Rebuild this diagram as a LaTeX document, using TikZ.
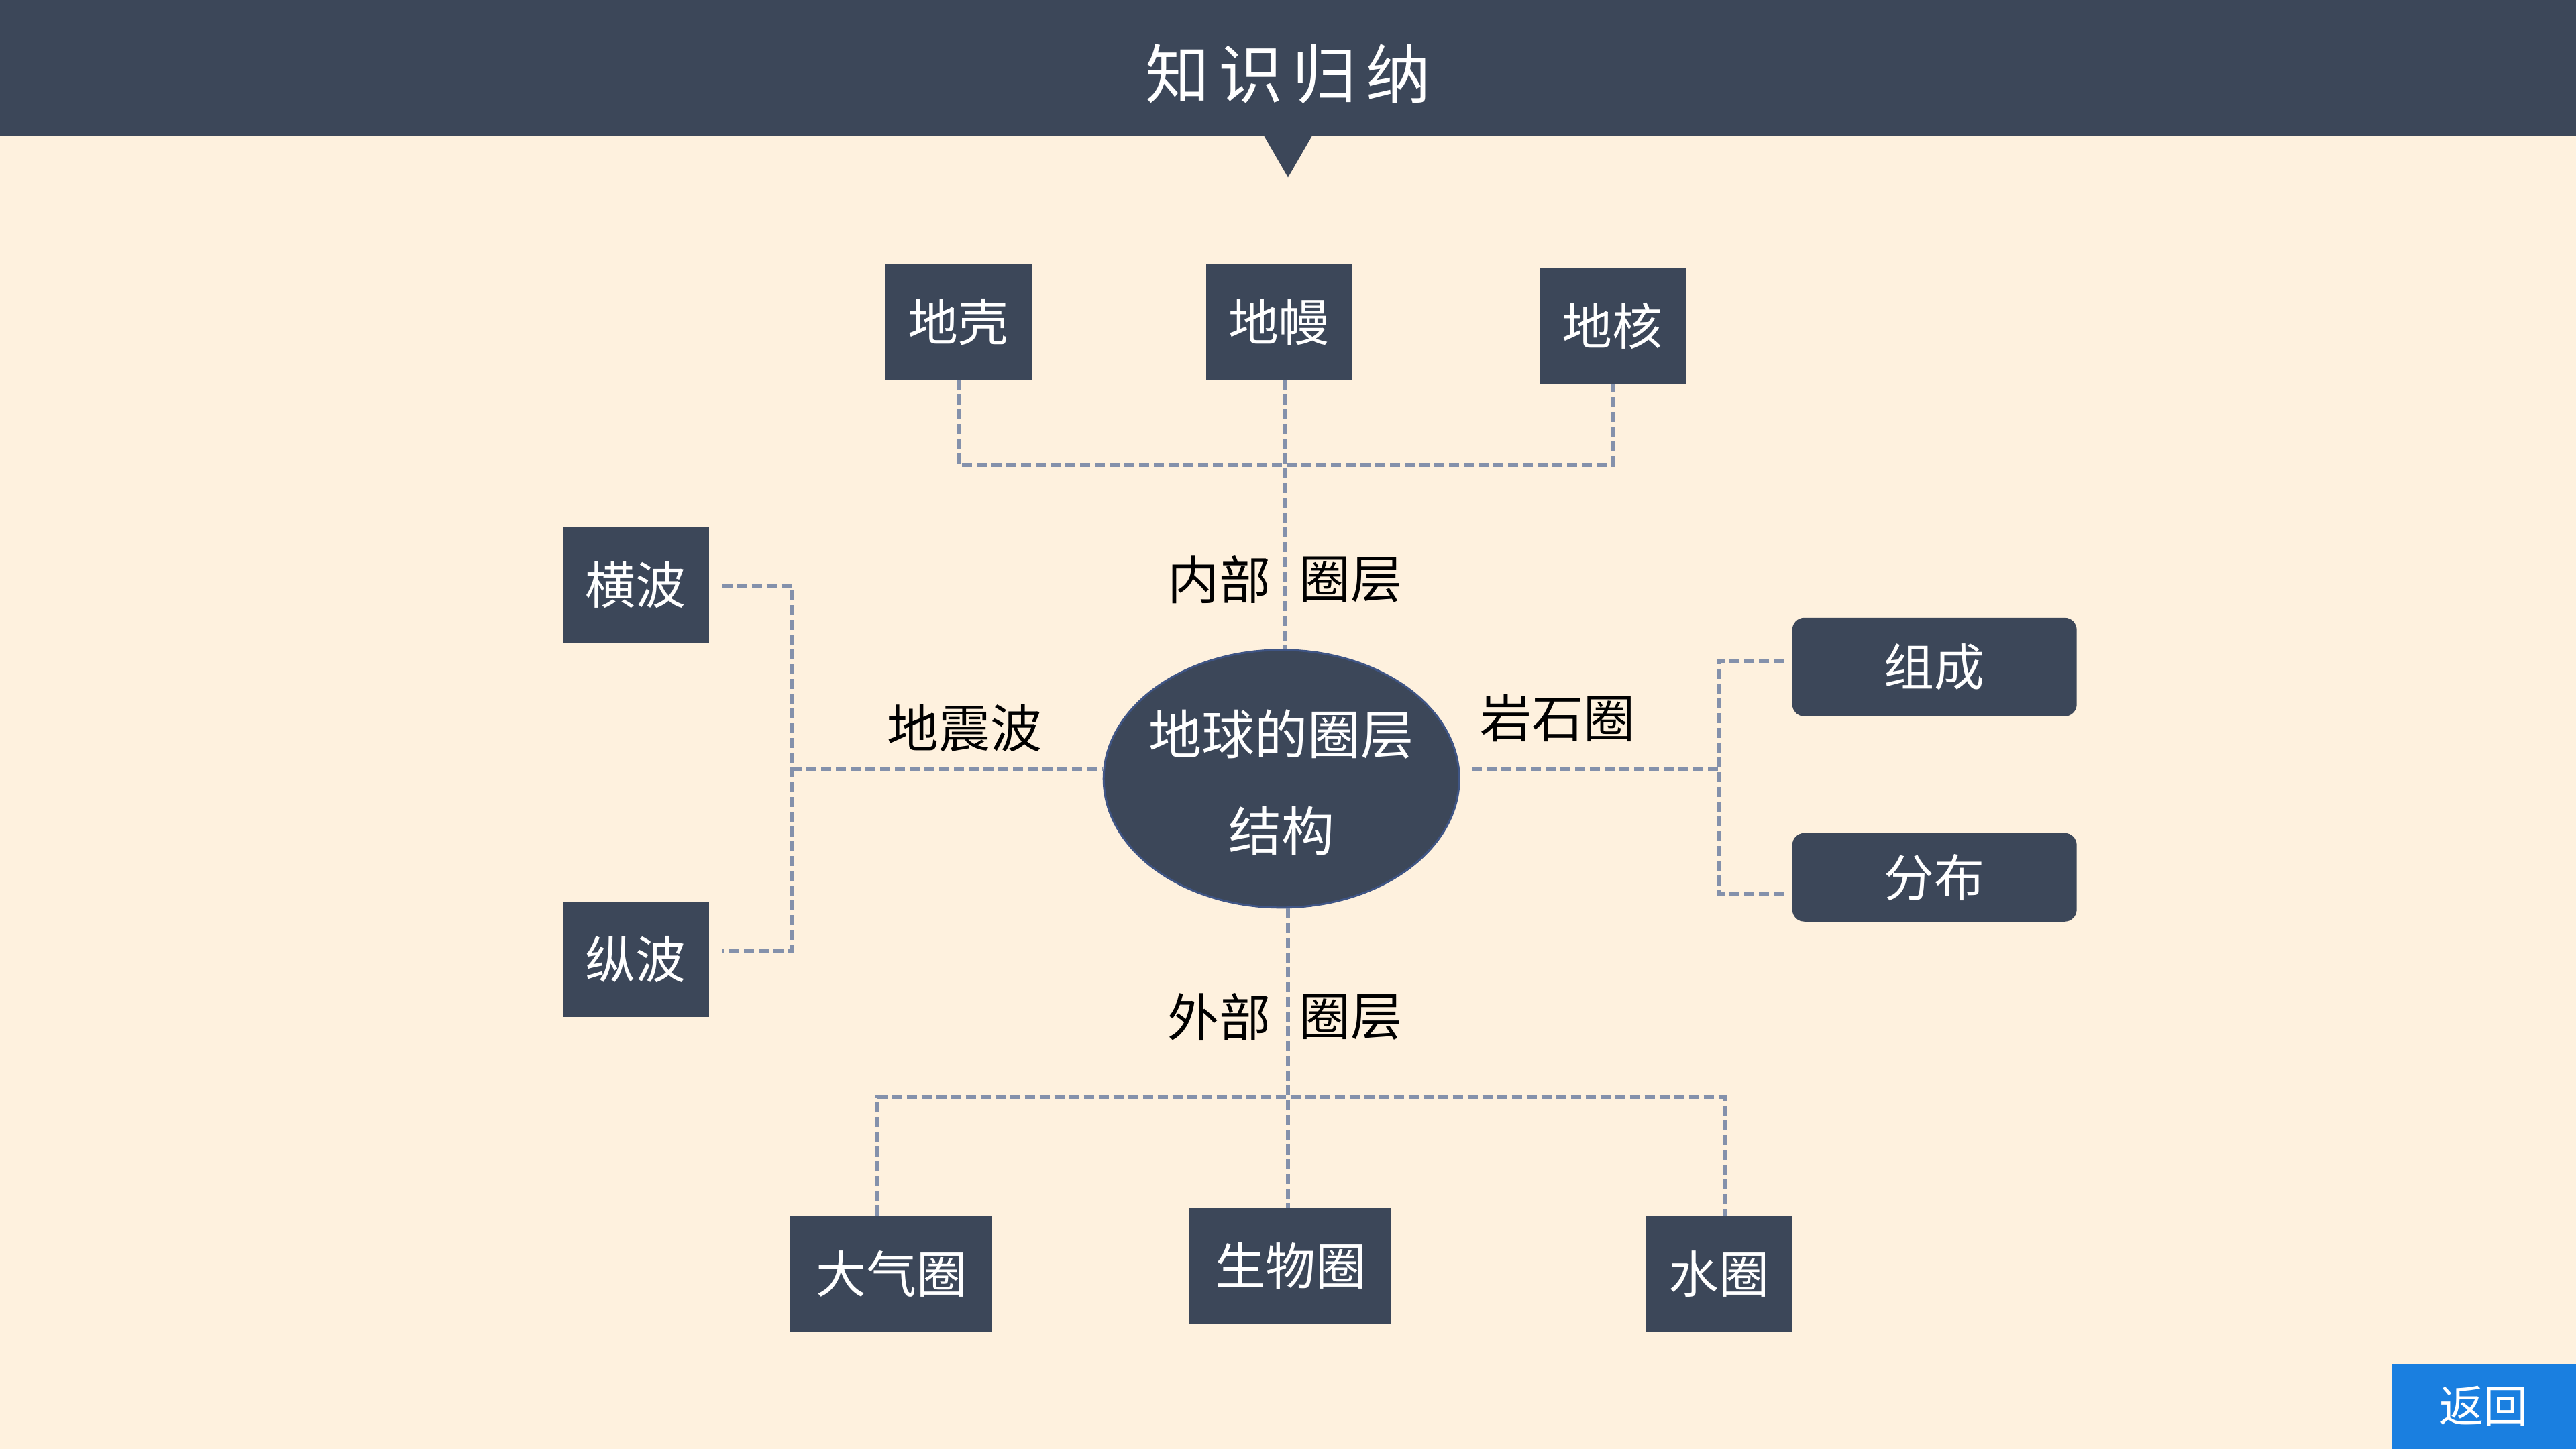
\documentclass[tikz,border=0pt]{standalone}
\usepackage{fontspec}
\setmainfont{Noto Sans CJK SC}
\usetikzlibrary{calc,shapes.geometric}
\definecolor{bg}{HTML}{FEF1DE}
\definecolor{dark}{HTML}{3C4759}
\definecolor{dashc}{HTML}{8491AB}
\definecolor{btn}{HTML}{1A7FE0}
\definecolor{ellb}{HTML}{3F5585}
\begin{document}
\begin{tikzpicture}[x=2.449pt,y=-2.449pt,
 box/.style={fill=dark,text=white,inner sep=0pt,font=\fontsize{75}{80}\selectfont},
 sqbox/.style={box,minimum width=218pt,minimum height=172pt},
 widebox/.style={box,minimum width=301pt,minimum height=174pt},
 rbox/.style={box,rounded corners=18pt,minimum width=424pt},
 lab/.style={text=black,inner sep=0pt,font=\fontsize{77}{80}\selectfont},
 link/.style={draw=dashc,line width=6pt,dash pattern=on 15pt off 7pt},
]
\useasboundingbox (0,0) rectangle (1568,882);
\fill[bg] (0,0) rectangle (1568,882);
\fill[dark] (0,0) rectangle (1568,83);
\fill[dark] (769,82) -- (799,82) -- (784,108) -- cycle;
\node[text=white,inner sep=0pt,font=\fontsize{96}{100}\selectfont] (title) at (784,45) {知\hspace{14pt}识\hspace{14pt}归\hspace{14pt}纳};

% inner layers
\node[sqbox] (crust) at (583.5,196) {地壳};
\node[sqbox] (mantle) at (778.5,196) {地幔};
\node[sqbox] (hexin) at (981.5,198.5) {地核};
% waves
\node[sqbox] (heng) at (387,356) {横波};
\node[sqbox] (zong) at (387,584) {纵波};
% lithosphere
\node[rbox,minimum height=147pt] (zucheng) at (1177.5,406) {组成};
\node[rbox,minimum height=132pt] (fenbu) at (1177.5,534) {分布};
% outer layers
\node[widebox] (daqi) at (542.5,775.5) {大气圈};
\node[widebox] (bio) at (785.5,770.5) {生物圈};
\node[sqbox,minimum height=174pt] (shui) at (1046.5,775.5) {水圈};

% center
\node[ellipse,fill=dark,draw=ellb,line width=3pt,minimum width=530pt,minimum height=384pt,inner sep=0pt,
      label={[text=white,align=center,inner sep=0pt,font=\fontsize{79}{144}\selectfont,yshift=-6pt]center:地球的圈层\\结构}] (earth) at (780,474) {};

% connectors
\coordinate (jt) at (782,283);
\draw[link] (crust.south) |- (jt) -| (hexin.south);
\draw[link] (mantle.south -| jt) -- (earth.north -| jt);

\coordinate (jl) at (482,468);
\draw[link] ($(heng.east)+(8,1)$) -| (jl) |- ($(zong.east)+(8,-5)$);
\draw[link] (jl) -- (jl -| earth.west);

\coordinate (jr) at (1046,468);
\draw[link] ($(jr -| earth.east)+(7,0)$) -- (jr);
\draw[link] ($(zucheng.west)+(-5,-4)$) -| (jr) |- ($(fenbu.west)+(-5,10)$);

\coordinate (jb) at (784,668);
\draw[link] (earth.south -| jb) -- (bio.north -| jb);
\draw[link] ($(daqi.north)+(-8.5,0)$) |- (jb) -| ($(shui.north)+(3.5,0)$);

% labels
\node[lab] (nei) at (742,353) {内部};
\node[lab] (qc1) at (822,353) {圈层};
\node[lab] (wai) at (742,619) {外部};
\node[lab] (qc2) at (822,619) {圈层};
\node[lab] (dzb) at (587,443) {地震波};
\node[lab] (ysq) at (948,437) {岩石圈};

% back button
\node[fill=btn,text=white,inner sep=0pt,minimum width=274pt,minimum height=127pt,anchor=south east,
      font=\fontsize{66}{70}\selectfont] (back) at (1568,882) {返回};
\end{tikzpicture}
\end{document}
